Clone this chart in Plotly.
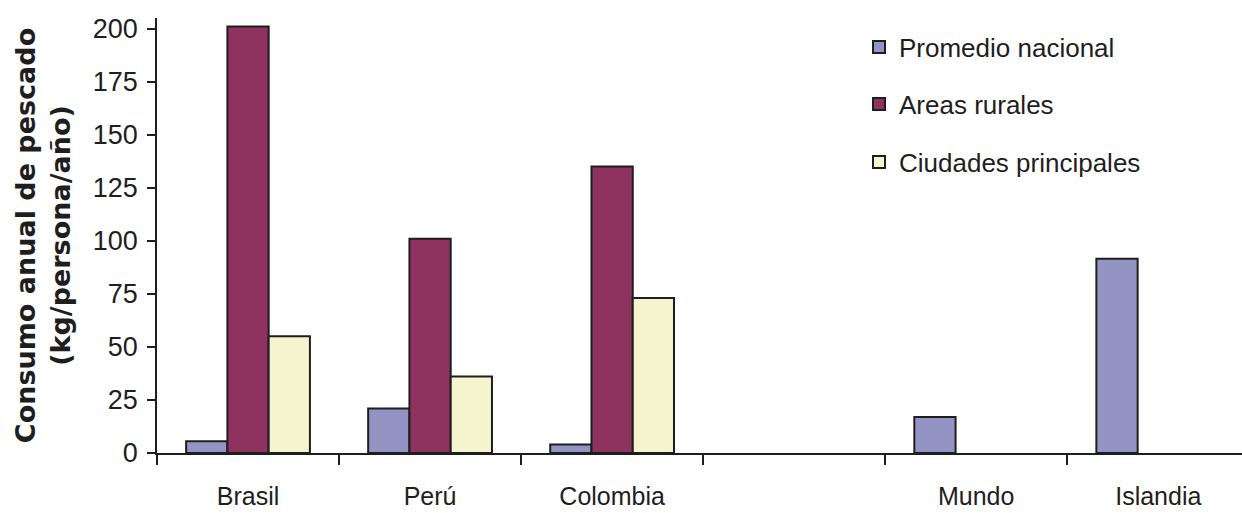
import plotly.graph_objects as go

# Consumo anual de pescado por país y tipo de área
categorias = ["Brasil", "Perú", "Colombia", " ", "Mundo", "Islandia"]
promedio_nacional = [5.5, 21, 4, None, 17, 91.5]
areas_rurales = [201, 101, 135, None, None, None]
ciudades_principales = [55, 36, 73, None, None, None]

series = [
    ("Promedio nacional", promedio_nacional, "#9494C4", "legend"),
    ("Areas rurales", areas_rurales, "#8E3360", "legend2"),
    ("Ciudades principales", ciudades_principales, "#F4F5CF", "legend3"),
]

fig = go.Figure()
for nombre, valores, color, leyenda in series:
    fig.add_trace(go.Bar(
        x=categorias, y=valores, name=nombre,
        marker=dict(color=color, line=dict(color="#1e1e1e", width=2)),
        legend=leyenda,
    ))

font_main = "Liberation Sans, Arial, sans-serif"
leg_style = dict(font=dict(family=font_main, size=26, color="#1e1e1e"),
                 bgcolor="rgba(0,0,0,0)", xanchor="left", yanchor="middle",
                 xref="paper", yref="paper", itemwidth=30)

fig.update_layout(
    width=1242, height=513,
    margin=dict(l=157, r=0, t=18, b=60),
    paper_bgcolor="white", plot_bgcolor="white",
    barmode="group", bargap=0.32, bargroupgap=0,
    font=dict(family=font_main, color="#1e1e1e"),
    showlegend=True,
    legend=dict(x=0.647, y=(453 - 47) / 435, **leg_style),
    legend2=dict(x=0.647, y=(453 - 104) / 435, **leg_style),
    legend3=dict(x=0.647, y=(453 - 162) / 435, **leg_style),
    xaxis=dict(
        type="category", range=[-0.5, 5.46],
        showline=True, linecolor="#1e1e1e", linewidth=1.5,
        ticks="outside", tickson="boundaries", ticklen=10,
        tickcolor="#1e1e1e", tickwidth=1.5,
        tickfont=dict(family=font_main, size=25, color="#1e1e1e"),
        ticklabelstandoff=20,
        showgrid=False, zeroline=False,
    ),
    yaxis=dict(
        range=[0, 205], tickvals=list(range(0, 201, 25)),
        showline=True, linecolor="#1e1e1e", linewidth=1.5,
        ticks="outside", ticklen=8, tickcolor="#1e1e1e", tickwidth=1.5,
        tickfont=dict(family=font_main, size=27, color="#1e1e1e"),
        ticklabelstandoff=4,
        showgrid=False, zeroline=False,
        title=dict(
            text="Consumo anual de pescado<br>(kg/persona/año)",
            font=dict(family="DejaVu Sans, sans-serif", size=27,
                      color="#1e1e1e", weight="bold"),
            standoff=14,
        ),
    ),
)

fig.write_html("out.html")
